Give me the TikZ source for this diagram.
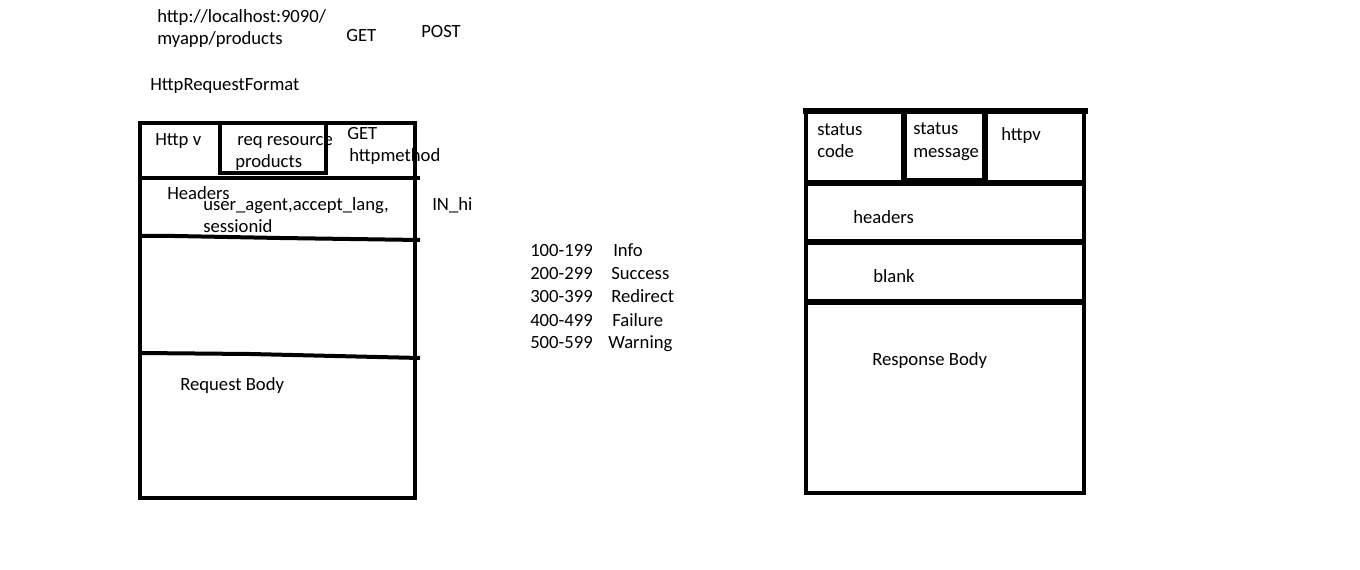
\documentclass[tikz,border=0pt]{standalone}
\usepackage{fontspec}
\setmainfont{Carlito}
\usetikzlibrary{positioning}

\begin{document}
\begin{tikzpicture}[x=0.75pt,y=-0.75pt,
  txt/.style={anchor=base west,inner sep=0pt,font=\fontsize{14}{17.25}\selectfont},
  thick box/.style={line width=3pt},
  heavy box/.style={line width=4pt}]
\useasboundingbox (0,0) rectangle (1360,570);
\node[txt] (url) at (157,23) {http://localhost:9090/};
\node[txt] (urlb) at (157,45) {myapp/products};
\node[txt] (get) at (346,42) {GET};
\node[txt] (post) at (421,38) {POST};
\node[txt] (reqfmt) at (150,91) {HttpRequestFormat};
\draw[thick box] (140,123) -- (415,123) -- (415,498) -- (140,498) --cycle ;
\draw[thick box] (220,123) -- (220,173) -- (326,173) -- (326,123) ;
\draw[thick box] (140,178) -- (420,178) ;
\draw[thick box] (140,236) -- (175,236) -- (280,238) -- (420,240) ;
\draw[thick box] (140,353) -- (250,354) -- (420,358) ;
\node[txt] (httpv) at (155,146) {Http v};
\node[txt] (reqres) at (237,146) {req resource};
\node[txt] (prod) at (235,168) {products};
\node[txt] (mget) at (347,140) {GET};
\node[txt] (method) at (349,162) {httpmethod};
\node[txt] (hdrs) at (167,200) {Headers};
\node[txt] (agent) at (203,211) {user\_agent,accept\_lang,};
\node[txt] (sess) at (203,233) {sessionid};
\node[txt] (inhi) at (432,211) {IN\_hi};
\node[txt] (reqbody) at (180,390) {Request Body};
\foreach \code/\name/\nx [count=\i] in {100-199/Info/613,200-299/Success/611,300-399/Redirect/611,400-499/Failure/612,500-599/Warning/608}
  {
  \node[txt] (code\i) at (530,234+23*\i) {\code};
  \node[txt] (name\i) at (\nx,234+23*\i) {\name};
  }
\begin{scope}
\draw[thick box] (806,111) -- (806,493) -- (1084,493) -- (1084,111) ;
\draw[line width=4.5pt] (803,111) -- (1088,111) ;
\draw[heavy box] (806,183) -- (1084,183) ;
\draw[heavy box] (904,111) -- (904,181) -- (985,181) -- (985,111) ;
\draw[heavy box] (806,242) -- (1084,242) ;
\draw[heavy box] (806,302) -- (1084,302) ;
\node[txt] (stat) at (817,136) {status};
\node[txt] (scode) at (817,158) {code};
\node[txt] (stat2) at (913,135) {status};
\node[txt] (smsg) at (913,158) {message};
\node[txt] (rhttpv) at (1001,141) {httpv};
\node[txt] (rhdrs) at (853,224) {headers};
\node[txt] (blank) at (873,283) {blank};
\node[txt] (resbody) at (872,365) {Response Body};
\end{scope}
\end{tikzpicture}
\end{document}
